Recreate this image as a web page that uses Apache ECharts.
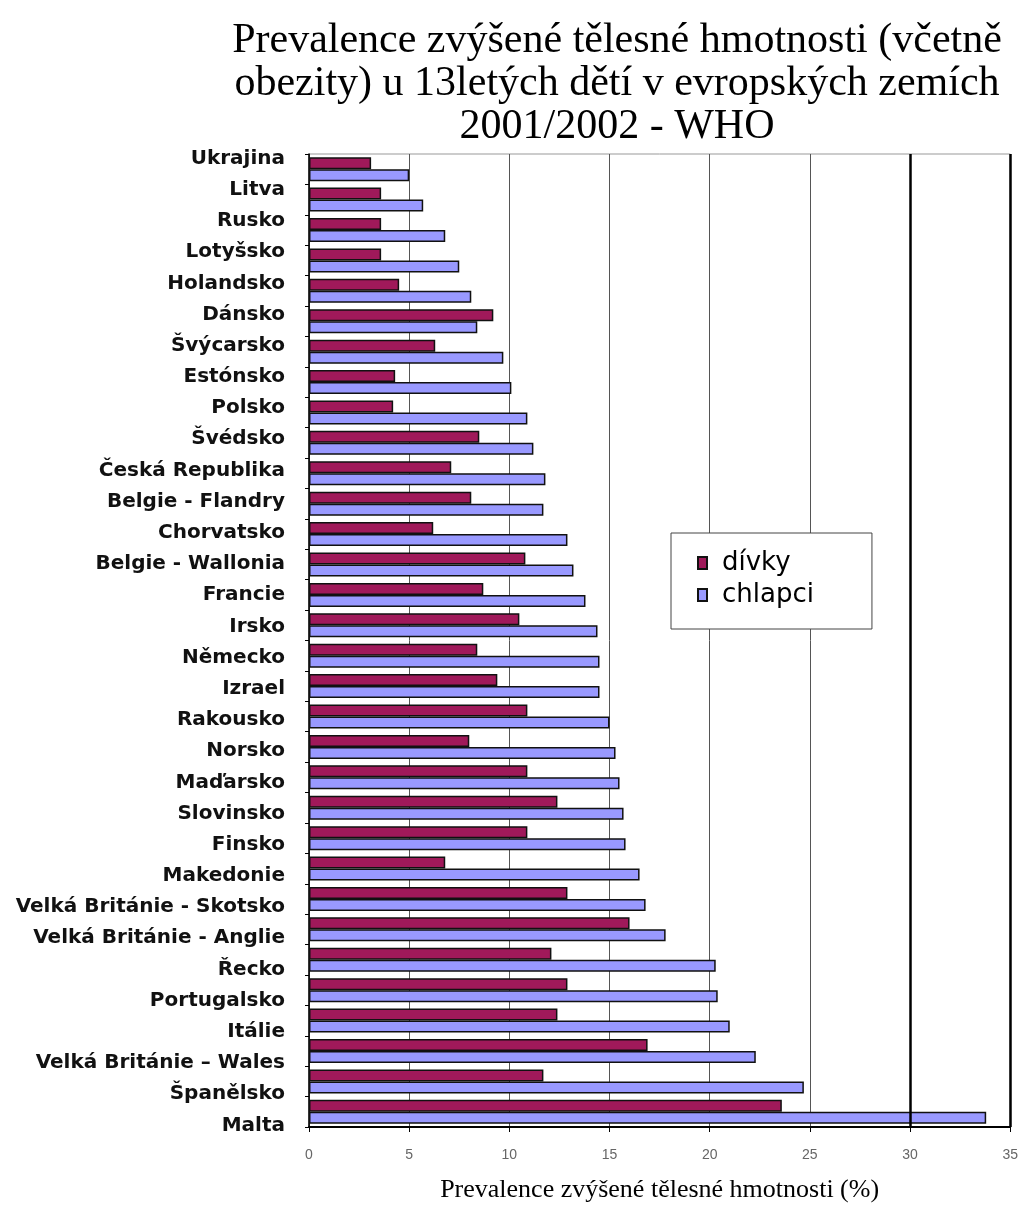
<!DOCTYPE html>
<html>
<head>
<meta charset="utf-8">
<script src="https://cdn.jsdelivr.net/npm/echarts@6/dist/echarts.min.js"></script>
<style>
html,body{margin:0;padding:0;background:#fff;}
#chart{width:1021px;height:1208px;}
</style>
</head>
<body>
<div id="chart"></div>
<script>
const titleText = 'Prevalence zvýšené tělesné hmotnosti (včetně\nobezity) u 13letých dětí v evropských zemích\n2001/2002 - WHO';
const axisTitle = 'Prevalence zvýšené tělesné hmotnosti (%)';
const seriesNames = ['dívky', 'chlapci'];
const countries = ['Ukrajina','Litva','Rusko','Lotyšsko','Holandsko','Dánsko','Švýcarsko','Estónsko','Polsko','Švédsko','Česká Republika','Belgie - Flandry','Chorvatsko','Belgie - Wallonia','Francie','Irsko','Německo','Izrael','Rakousko','Norsko','Maďarsko','Slovinsko','Finsko','Makedonie','Velká Británie - Skotsko','Velká Británie - Anglie','Řecko','Portugalsko','Itálie','Velká Británie – Wales','Španělsko','Malta'];
const girls = [3.1,3.6,3.6,3.6,4.5,9.2,6.3,4.3,4.2,8.5,7.1,8.1,6.2,10.8,8.7,10.5,8.4,9.4,10.9,8.0,10.9,12.4,10.9,6.8,12.9,16.0,12.1,12.9,12.4,16.9,11.7,23.6];
const boys = [5.0,5.7,6.8,7.5,8.1,8.4,9.7,10.1,10.9,11.2,11.8,11.7,12.9,13.2,13.8,14.4,14.5,14.5,15.0,15.3,15.5,15.7,15.8,16.5,16.8,17.8,20.3,20.4,21.0,22.3,24.7,33.8];
const xMin = 0, xMax = 35, xStep = 5;
const refLines = [30, 35];

const chart = echarts.init(document.getElementById('chart'), null, {renderer: 'canvas'});
chart.setOption({
  backgroundColor: '#fff',
  animation: false,
  title: {
    text: titleText,
    left: 617,
    top: 19,
    padding: 0,
    textAlign: 'center',
    textStyle: {
      fontFamily: '"Liberation Serif", "DejaVu Serif", serif',
      fontWeight: 'normal',
      fontSize: 42,
      lineHeight: 43,
      color: '#000'
    }
  },
  legend: {
    data: seriesNames,
    orient: 'vertical',
    left: 671,
    top: 533,
    itemWidth: 9,
    itemHeight: 12,
    itemGap: 6,
    padding: [17, 58, 21, 26],
    borderColor: '#444',
    borderWidth: 1,
    backgroundColor: '#fff',
    icon: 'rect',
    textStyle: {
      fontFamily: '"DejaVu Sans", sans-serif',
      fontSize: 26,
      color: '#000',
      padding: [0, 0, 0, 10]
    }
  },
  grid: [
    {left: 309, right: 9, top: 154, bottom: 74, show: true, borderColor: '#999', borderWidth: 1, backgroundColor: 'transparent'},
    {left: 309, right: 9, top: 143, bottom: 67, show: false}
  ],
  xAxis: [
    {
      gridIndex: 0,
      type: 'value',
      min: xMin, max: xMax, interval: xStep,
      name: axisTitle,
      nameLocation: 'middle',
      nameGap: 50,
      nameTextStyle: {
        fontFamily: '"Liberation Serif", serif',
        fontSize: 26,
        color: '#000'
      },
      axisLine: {show: true, lineStyle: {color: '#000', width: 2}},
      axisTick: {show: true, length: 5, lineStyle: {color: '#000'}},
      axisLabel: {margin: 21, fontFamily: '"Liberation Sans", sans-serif', fontSize: 14, color: '#666'},
      splitLine: {show: true, lineStyle: {color: '#555', width: 1}}
    },
    {gridIndex: 1, type: 'value', min: xMin, max: xMax, show: false}
  ],
  yAxis: [
    {
      gridIndex: 0,
      type: 'category',
      data: countries,
      inverse: true,
      axisLine: {show: true, lineStyle: {color: '#000', width: 1.5}},
      axisTick: {show: true, length: 4, lineStyle: {color: '#000'}},
      axisLabel: {show: false}
    },
    {
      gridIndex: 1,
      type: 'category',
      data: countries,
      inverse: true,
      axisLine: {show: false},
      axisTick: {show: false},
      axisLabel: {
        show: true,
        margin: 24,
        fontFamily: '"DejaVu Sans", sans-serif',
        fontWeight: 'bold',
        fontSize: 20,
        color: '#111'
      }
    }
  ],
  series: [
    {
      name: seriesNames[0],
      type: 'bar',
      xAxisIndex: 0, yAxisIndex: 0,
      data: girls,
      barWidth: 12,
      barGap: '0%',
      itemStyle: {color: '#A0195A', borderColor: '#111', borderWidth: 1.5},
      markLine: {
        silent: true,
        symbol: 'none',
        label: {show: false},
        lineStyle: {color: '#000', width: 2.5, type: 'solid'},
        data: refLines.map(v => ({xAxis: v}))
      }
    },
    {
      name: seriesNames[1],
      type: 'bar',
      xAxisIndex: 0, yAxisIndex: 0,
      data: boys,
      barWidth: 12,
      barGap: '0%',
      itemStyle: {color: '#9999FF', borderColor: '#111', borderWidth: 1.5}
    }
  ]
});
</script>
</body>
</html>
